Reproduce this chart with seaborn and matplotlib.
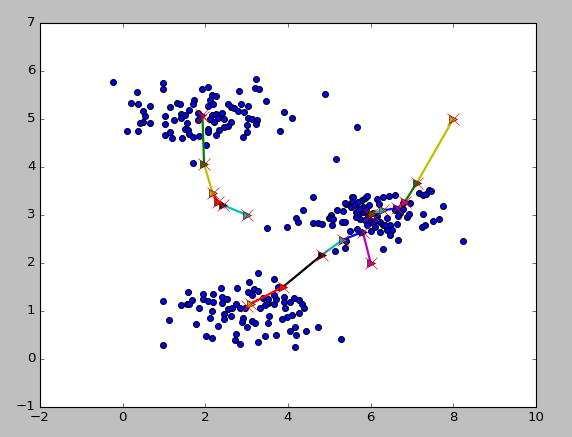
import matplotlib
matplotlib.use("Agg")
import matplotlib.pyplot as plt
import seaborn as sns
import numpy as np

# ---- data points (three groups) ----
top_x = [-0.23, 0.97, 0.97, 0.34, 1.93, 2.06, 3.23, 3.19, 3.31, 2.82, 2.17, 2.27, 1.73, 2.11, 3.46,
         0.19, 0.38, 0.67, 1.14, 1.31, 1.38, 1.69, 2.07, 2.19, 2.56, 2.62, 2.86, 3.04, 2.69, 0.48,
         1.60, 2.80, 2.94, 3.91, 4.09, 0.54, 1.02, 1.41, 1.51, 1.83, 2.15, 2.27, 2.41, 3.04, 3.14,
         3.24, 0.48, 0.42, 0.67, 1.02, 1.25, 1.40, 1.56, 1.83, 2.11, 2.30, 2.44, 2.22, 2.61, 2.56,
         2.46, 3.01, 3.22, 1.51, 2.07, 2.33, 0.11, 0.38, 1.15, 1.57, 2.07, 3.00, 3.81, 1.02, 1.20,
         1.43, 1.61, 1.69, 1.85, 2.27, 2.92, 2.02, 1.71, 4.90, 5.68, 5.15]
top_y = [5.78, 5.74, 5.62, 5.57, 5.62, 5.66, 5.83, 5.64, 5.62, 5.58, 5.50, 5.48, 5.40, 5.40, 5.37,
         5.33, 5.31, 5.28, 5.24, 5.33, 5.31, 5.31, 5.27, 5.31, 5.31, 5.26, 5.31, 5.28, 5.22, 5.16,
         5.19, 5.16, 5.14, 5.15, 5.03, 5.06, 5.06, 5.10, 5.08, 5.13, 5.08, 5.10, 5.12, 5.03, 4.99,
         4.98, 4.94, 4.91, 4.91, 4.90, 4.98, 5.03, 4.91, 4.98, 5.01, 5.03, 4.99, 4.94, 4.94, 4.85,
         4.83, 4.88, 4.89, 4.80, 4.80, 4.78, 4.76, 4.76, 4.73, 4.77, 4.72, 4.72, 4.76, 4.66, 4.61,
         4.61, 4.68, 4.63, 4.65, 4.66, 4.63, 4.46, 4.09, 5.53, 4.83, 4.16]

bottom_x = [3.28, 3.65, 3.06, 2.77, 2.38, 1.59, 1.95, 2.19, 3.04, 3.18, 3.28, 3.13, 3.77, 0.98, 1.41,
            1.55, 1.61, 1.67, 1.95, 2.07, 2.18, 2.40, 2.53, 2.41, 2.74, 1.85, 2.15, 2.56, 2.64, 2.84,
            2.96, 3.32, 3.52, 3.65, 3.71, 3.91, 3.90, 4.05, 4.15, 4.27, 4.33, 4.39, 3.93, 4.27, 4.09,
            3.97, 3.86, 3.55, 3.52, 2.44, 2.62, 2.45, 2.11, 2.90, 2.88, 3.12, 3.20, 3.00, 2.30, 1.77,
            1.13, 4.17, 4.05, 4.19, 4.44, 4.73, 3.71, 3.44, 2.73, 2.72, 2.84, 3.28, 2.02, 2.17, 0.97,
            4.18, 5.28, 3.40, 3.52, 3.44, 3.65]
bottom_y = [1.79, 1.67, 1.60, 1.47, 1.47, 1.39, 1.35, 1.35, 1.39, 1.46, 1.42, 1.33, 1.49, 1.21, 1.12,
            1.14, 1.14, 1.23, 1.25, 1.21, 1.19, 1.30, 1.25, 1.16, 1.14, 1.06, 1.00, 1.04, 1.06, 1.07,
            1.06, 1.06, 1.16, 1.14, 1.26, 1.30, 1.19, 1.19, 1.28, 1.23, 1.14, 1.06, 1.06, 0.95, 0.92,
            0.88, 0.83, 0.90, 0.76, 0.93, 0.90, 0.83, 0.85, 0.86, 0.78, 0.79, 0.74, 0.67, 0.69, 0.72,
            0.81, 0.67, 0.58, 0.50, 0.58, 0.67, 0.50, 0.48, 0.52, 0.40, 0.31, 0.35, 0.48, 0.43, 0.29,
            0.24, 0.42, 1.28, 1.26, 1.12, 1.33]

right_x = [4.61, 4.37, 4.19, 4.23, 4.61, 4.72, 4.83, 4.98, 5.03, 5.07, 5.19, 5.31, 5.38, 5.34, 5.40,
           5.52, 5.54, 5.58, 5.56, 5.64, 5.70, 5.74, 5.78, 5.86, 5.90, 5.81, 5.82, 5.89, 5.97, 5.94,
           5.98, 6.05, 6.16, 6.21, 6.31, 6.44, 6.60, 6.16, 6.23, 6.29, 6.11, 6.02, 6.23, 6.40, 6.47,
           6.51, 6.63, 6.39, 6.47, 6.65, 6.71, 6.79, 6.87, 6.92, 6.94, 7.17, 7.27, 7.35, 7.42, 7.45,
           7.26, 7.23, 7.32, 7.50, 7.66, 7.76, 8.23, 6.29, 5.38, 5.14, 5.40, 5.50, 5.66, 5.76, 5.38,
           5.62, 5.70, 5.74, 5.65, 5.86, 5.92, 6.13, 6.05, 6.35, 6.67, 6.79, 6.59, 5.02, 5.10, 3.48,
           3.97]
right_y = [3.37, 3.10, 2.94, 2.85, 2.83, 2.83, 2.81, 2.93, 3.01, 2.79, 3.10, 2.86, 2.86, 3.09, 3.22,
           3.16, 3.38, 3.38, 3.28, 3.07, 3.00, 2.91, 3.31, 3.35, 3.40, 3.17, 3.07, 3.10, 3.21, 2.97,
           2.90, 2.83, 3.33, 3.23, 3.37, 3.40, 3.42, 2.97, 2.86, 2.79, 2.76, 2.67, 2.65, 2.93, 2.79,
           2.69, 2.81, 2.69, 2.58, 2.47, 3.05, 3.12, 2.96, 3.02, 3.24, 3.45, 3.42, 3.44, 3.52, 3.49,
           3.02, 2.76, 2.79, 2.87, 2.91, 3.19, 2.46, 2.29, 2.31, 2.25, 2.46, 2.67, 2.70, 2.65, 3.24,
           3.21, 3.28, 3.12, 2.96, 2.90, 2.79, 2.90, 3.04, 2.79, 2.97, 3.24, 3.10, 2.94, 2.91, 2.72,
           2.76]

# ---- centroid paths ----
path_a_x = [3.00, 2.42, 2.30, 2.18, 1.97, 1.93, 1.95]
path_a_y = [3.00, 3.21, 3.28, 3.45, 4.06, 5.08, 5.04]
path_a_colors = ['c', 'k', 'r', 'y', 'g', 'b']

path_b_x = [6.00, 5.81, 5.32, 4.82, 3.89, 3.10, 3.02]
path_b_y = [2.00, 2.65, 2.48, 2.17, 1.51, 1.15, 1.10]
path_b_colors = ['m', 'b', 'c', 'k', 'r', 'y']

path_c_x = [8.00, 7.11, 6.83, 6.63, 6.31, 6.03, 5.97]
path_c_y = [5.00, 3.66, 3.28, 3.14, 3.10, 3.03, 3.00]
path_c_colors = ['y', 'g', 'm', 'b', 'c', 'g']

x_ticks = [-2, 0, 2, 4, 6, 8, 10]
y_ticks = [-1, 0, 1, 2, 3, 4, 5, 6, 7]

plt.style.use('classic')
plt.rcParams['font.family'] = ['DejaVu Sans']

fig = plt.figure(figsize=(572 / 80, 437 / 80), dpi=80, facecolor='#bfbfbf')
ax = fig.add_axes([40 / 572, 30 / 437, 496 / 572, 384 / 437])

all_x = top_x + bottom_x + right_x
all_y = top_y + bottom_y + right_y
sns.scatterplot(x=all_x, y=all_y, color='b', edgecolor='k', linewidth=1, s=28, ax=ax,
                legend=False, zorder=2)

for px, py, cols in [(path_a_x, path_a_y, path_a_colors),
                     (path_b_x, path_b_y, path_b_colors),
                     (path_c_x, path_c_y, path_c_colors)]:
    for i, c in enumerate(cols):
        ax.plot(px[i:i + 2], py[i:i + 2], '-', color=c, linewidth=2, zorder=3)
        ax.plot(px[i], py[i], '>', color=c, markersize=7, mec='k', mew=0.5, zorder=4)
    ax.plot(px, py, 'x', color='r', markersize=11, mew=0.6, linestyle='none', zorder=5)

ax.set_xlim(-2, 10)
ax.set_ylim(-1, 7)
ax.set_xticks(x_ticks)
ax.set_yticks(y_ticks)
ax.tick_params(direction='in', top=True, right=True, labelsize=12, length=4)
ax.set_xlabel('')
ax.set_ylabel('')

fig.savefig('out.png', dpi=80, facecolor=fig.get_facecolor())
